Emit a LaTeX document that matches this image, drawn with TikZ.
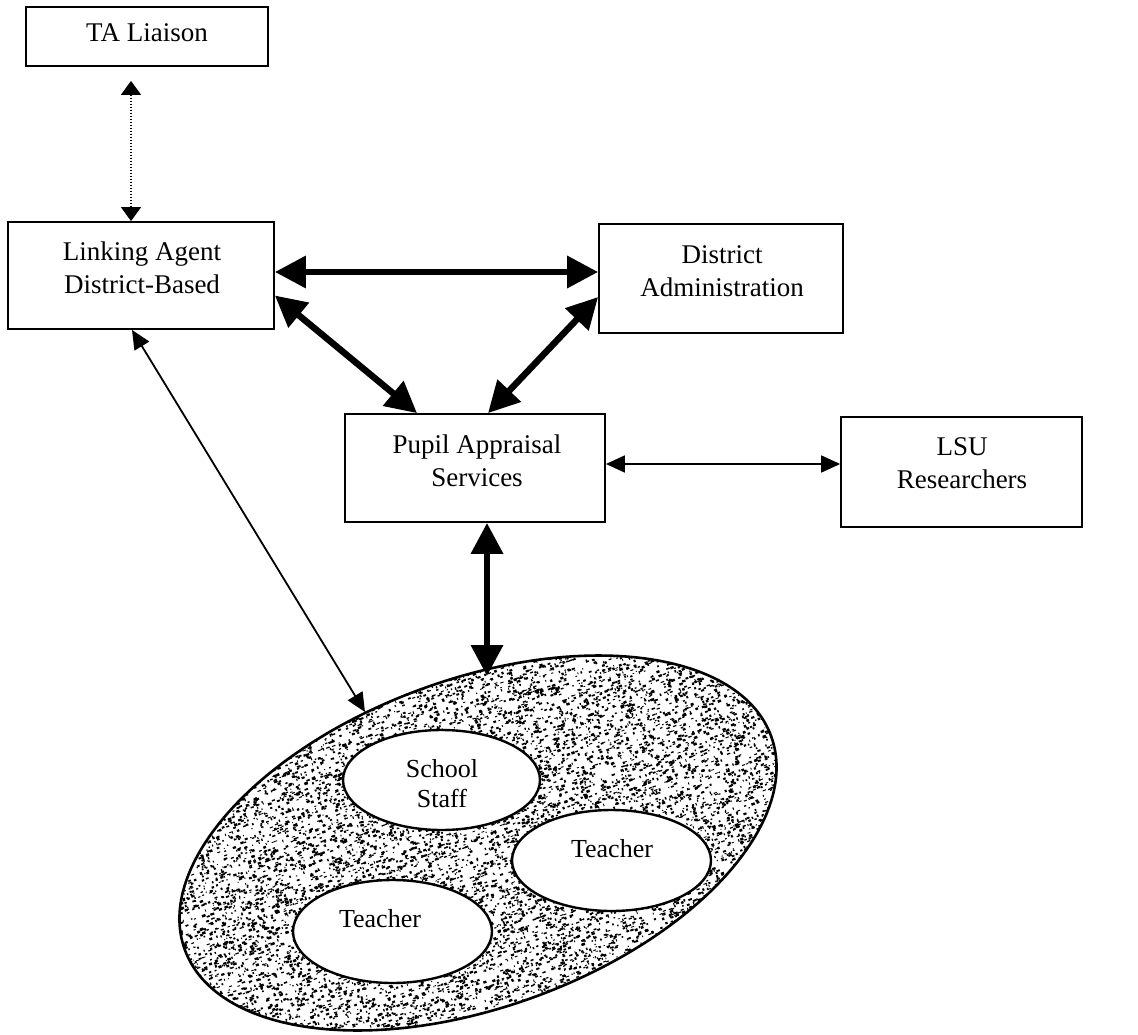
\documentclass[tikz,border=0pt]{standalone}
\usepackage{fontspec}
\setmainfont{Liberation Serif}
\usetikzlibrary{arrows.meta,shapes.geometric}
\begin{document}
\begin{tikzpicture}[x=1pt,y=-1pt,
  box/.style={draw, line width=1.8pt, inner sep=0pt, fill=white},
  txt/.style={font=\fontsize{27}{33}\selectfont, align=center, inner sep=0pt, anchor=base},
  oval/.style={ellipse, draw, line width=2.4pt, fill=white, inner sep=0pt},
  heavy/.style={line width=6.5pt, {Triangle[length=31pt,width=31pt]}-{Triangle[length=31pt,width=31pt]}},
  light/.style={line width=1.8pt, {Triangle[length=19pt,width=17pt]}-{Triangle[length=19pt,width=17pt]}},
  dotlink/.style={line width=1.5pt, dash pattern=on 1.5pt off 1.5pt, {Triangle[length=14pt,width=20pt]}-{Triangle[length=14pt,width=20pt]}},
]
\useasboundingbox[fill=white] (0,0) rectangle (1138,1035);

% rectangular units
\node[box, minimum width=242pt, minimum height=59pt]  (ta)    at (147,36.5)  {};
\node[box, minimum width=266pt, minimum height=107pt] (link)  at (141,275.5) {};
\node[box, minimum width=244pt, minimum height=109pt] (dist)  at (721,278.5) {};
\node[box, minimum width=260pt, minimum height=108pt] (pupil) at (475,468)   {};
\node[box, minimum width=241pt, minimum height=110pt] (lsu)   at (961.5,472) {};

% labels (a multi-line label sits on the baseline of its last line)
\node[txt] (tatext)    at (147,42)  {TA Liaison};
\node[txt] (linktext)  at (142,293) {Linking Agent\\District-Based};
\node[txt] (disttext)  at (722,296) {District\\Administration};
\node[txt] (pupiltext) at (477,486) {Pupil Appraisal\\Services};
\node[txt] (lsutext)   at (962,488) {LSU\\Researchers};

% school site: stippled oval
\begin{scope}[shift={(478,843)}, rotate=20]
  \begin{scope}
    \clip (0,0) ellipse [x radius=312, y radius=164];
    \pgfmathsetseed{4711}
    \foreach \j in {1,...,60} {
      \fill[black] foreach \k in {1,...,200} {
        ({312*rand},{164*rand}) rectangle ++({0.8+2.8*rnd},{0.8+1.8*rnd})
      };
    }
  \end{scope}
  \draw[line width=2.6pt] (0,0) ellipse [x radius=312, y radius=164];
\end{scope}

\node[oval, minimum width=197pt, minimum height=100pt] (staff) at (441.5,780) {};
\node[oval, minimum width=199pt, minimum height=101pt] (teachA) at (611.5,860.5) {};
\node[oval, minimum width=199pt, minimum height=103pt] (teachB) at (392.5,931.5) {};

\node[txt, font=\fontsize{26}{30}\selectfont] (stafftext)  at (442,807) {School\\Staff};
\node[txt, font=\fontsize{26}{30}\selectfont] (teachAtext) at (612,857) {Teacher};
\node[txt, font=\fontsize{26}{30}\selectfont] (teachBtext) at (380,927) {Teacher};

\coordinate (siteA) at (365,712);
\coordinate (siteB) at (487,676);

% connectors
\draw[dotlink] ([xshift=-16pt,yshift=-14pt]ta.south) -- ([xshift=-16pt]ta.south |- link.north);
\draw[heavy] ([yshift=3.5pt]link.east) -- ([yshift=3.5pt]link.east -| dist.west);
\draw[heavy] ([yshift=-20pt]link.east) -- ([xshift=-58pt]pupil.north);
\draw[heavy] ([yshift=-18.5pt]dist.west) -- ([xshift=13pt]pupil.north);
\draw[light] ([yshift=4pt]pupil.east) -- ([yshift=4pt]pupil.east -| lsu.west);
\draw[heavy] ([xshift=12pt]pupil.south) -- (siteB);
\draw[light] ([xshift=-9pt]link.south) -- (siteA);
\end{tikzpicture}
\end{document}
